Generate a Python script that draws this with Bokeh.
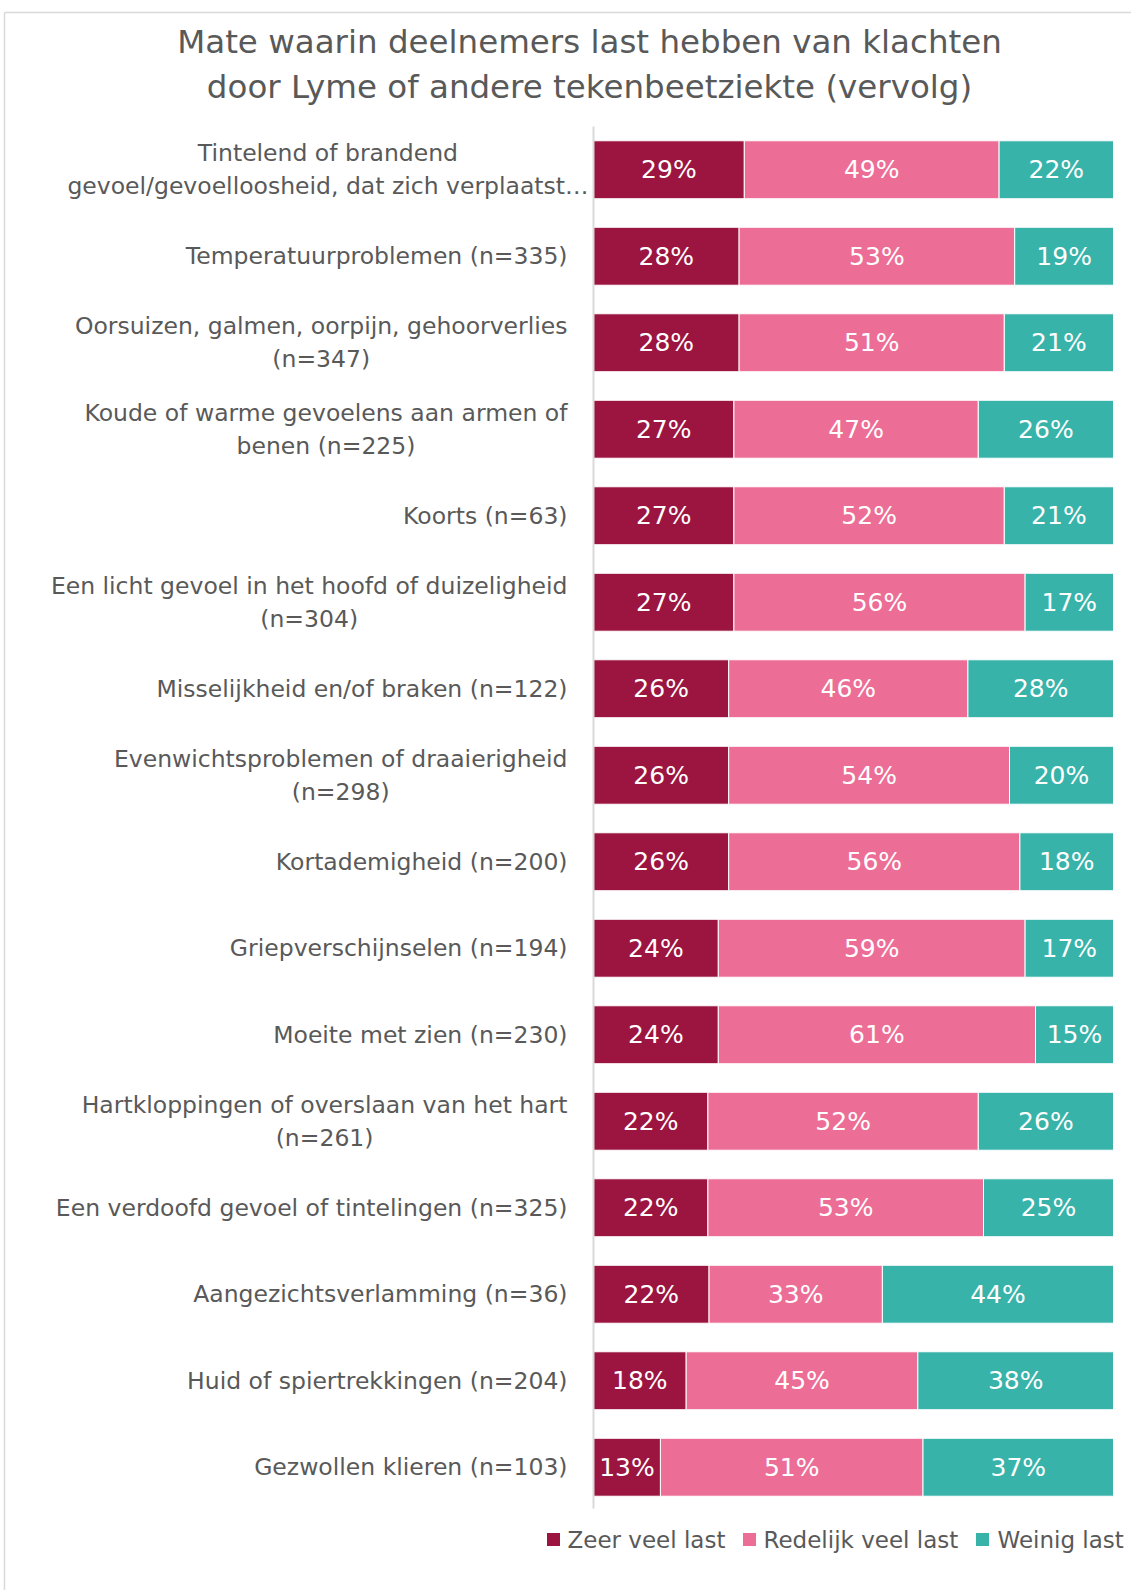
from bokeh.plotting import figure
from bokeh.models import Range1d, ColumnDataSource
from bokeh.core.properties import value
from bokeh.embed import file_html
from bokeh.resources import INLINE

# ---------------- data ----------------
categories = [
    "Tintelend of brandend\ngevoel/gevoelloosheid, dat zich verplaatst\u2026",
    "Temperatuurproblemen (n=335)",
    "Oorsuizen, galmen, oorpijn, gehoorverlies\n(n=347)",
    "Koude of warme gevoelens aan armen of\nbenen (n=225)",
    "Koorts (n=63)",
    "Een licht gevoel in het hoofd of duizeligheid\n(n=304)",
    "Misselijkheid en/of braken (n=122)",
    "Evenwichtsproblemen of draaierigheid\n(n=298)",
    "Kortademigheid (n=200)",
    "Griepverschijnselen (n=194)",
    "Moeite met zien (n=230)",
    "Hartkloppingen of overslaan van het hart\n(n=261)",
    "Een verdoofd gevoel of tintelingen (n=325)",
    "Aangezichtsverlamming (n=36)",
    "Huid of spiertrekkingen (n=204)",
    "Gezwollen klieren (n=103)",
]
zeer_veel_last = [29, 28, 28, 27, 27, 27, 26, 26, 26, 24, 24, 22, 22, 22, 18, 13]
redelijk_veel_last = [49, 53, 51, 47, 52, 56, 46, 54, 56, 59, 61, 52, 53, 33, 45, 51]
weinig_last = [22, 19, 21, 26, 21, 17, 28, 20, 18, 17, 15, 26, 25, 44, 38, 37]
series_names = ["Zeer veel last", "Redelijk veel last", "Weinig last"]
series_colors = ["#9B1540", "#EC6E96", "#38B3AA"]
title_lines = [
    "Mate waarin deelnemers last hebben van klachten",
    "door Lyme of andere tekenbeetziekte (vervolg)",
]

# ---------------- layout (canvas pixels) ----------------
W, H = 1131, 1590
FRAME_L, FRAME_R = 593, 1113
ROWS_TOP, ROW_H = 126, 86.5
n = len(categories)
px_per_pct = (FRAME_R - FRAME_L) / 100.0
x_start = -FRAME_L / px_per_pct
x_end = (W - FRAME_L) / px_per_pct
y_end = n + ROWS_TOP / ROW_H
y_start = y_end - H / ROW_H


def X(px):
    return x_start + px / px_per_pct


def Y(py):
    return y_end - py / ROW_H


TEXT = "#595959"
FONT = value("DejaVu Sans")

p = figure(width=W, height=H, x_range=Range1d(x_start, x_end),
           y_range=Range1d(y_start, y_end), output_backend="svg",
           toolbar_location=None, min_border=0,
           x_axis_location=None, y_axis_location=None)
p.grid.visible = False
p.outline_line_color = None
p.background_fill_color = "white"
p.border_fill_color = "white"

ys = [n - i - 0.5 for i in range(n)]
series = [zeer_veel_last, redelijk_veel_last, weinig_last]
totals = [sum(s[i] for s in series) for i in range(n)]

lefts = [0.0] * n
for vals, name, col in zip(series, series_names, series_colors):
    widths = [100.0 * v / t for v, t in zip(vals, totals)]
    rights = [l + w for l, w in zip(lefts, widths)]
    src = ColumnDataSource(dict(y=ys, left=lefts, right=rights,
                                mid=[(l + r) / 2 for l, r in zip(lefts, rights)],
                                lab=[f"{v}%" for v in vals]))
    p.hbar(y="y", left="left", right="right", height=0.67, source=src,
           fill_color=col, line_color="white", line_width=1)
    p.text(x="mid", y="y", text="lab", source=src, text_align="center",
           text_baseline="middle", text_color="white", text_font=FONT,
           text_font_size="25px")
    lefts = rights

# axis line
p.segment(x0=[0], y0=[Y(1508)], x1=[0], y1=[n], line_color="#d9d9d9", line_width=2)

# category labels (first one overflows its label area, as in the original)
label_right = [X(588)] + [X(567)] * (n - 1)
p.text(x=label_right, y=ys, text=categories, anchor="center_right",
       text_align="center", text_baseline="middle", text_line_height=1.18,
       text_color=TEXT, text_font=FONT, text_font_size="23.5px")

# title
p.text(x=[X(589), X(589)], y=[Y(41), Y(86)], text=title_lines,
       text_align="center", text_baseline="middle", text_color=TEXT,
       text_font=FONT, text_font_size="32.5px")

# legend
leg_sq_x = [553, 749, 982]
leg_tx_x = [567, 763, 997]
leg_y = 1539
p.scatter(x=[X(v) for v in leg_sq_x], y=[Y(leg_y)] * 3, marker="square",
          size=13, fill_color=series_colors, line_color=None)
p.text(x=[X(v) for v in leg_tx_x], y=[Y(leg_y)] * 3, text=series_names,
       text_align="left", text_baseline="middle", text_color=TEXT,
       text_font=FONT, text_font_size="23px")

# chart border (top / left)
p.segment(x0=[X(4), X(4)], y0=[Y(12), Y(12)], x1=[X(W), X(4)], y1=[Y(12), Y(H)],
          line_color="#d9d9d9", line_width=1.5)

open("out.html", "w").write(file_html(p, INLINE))
